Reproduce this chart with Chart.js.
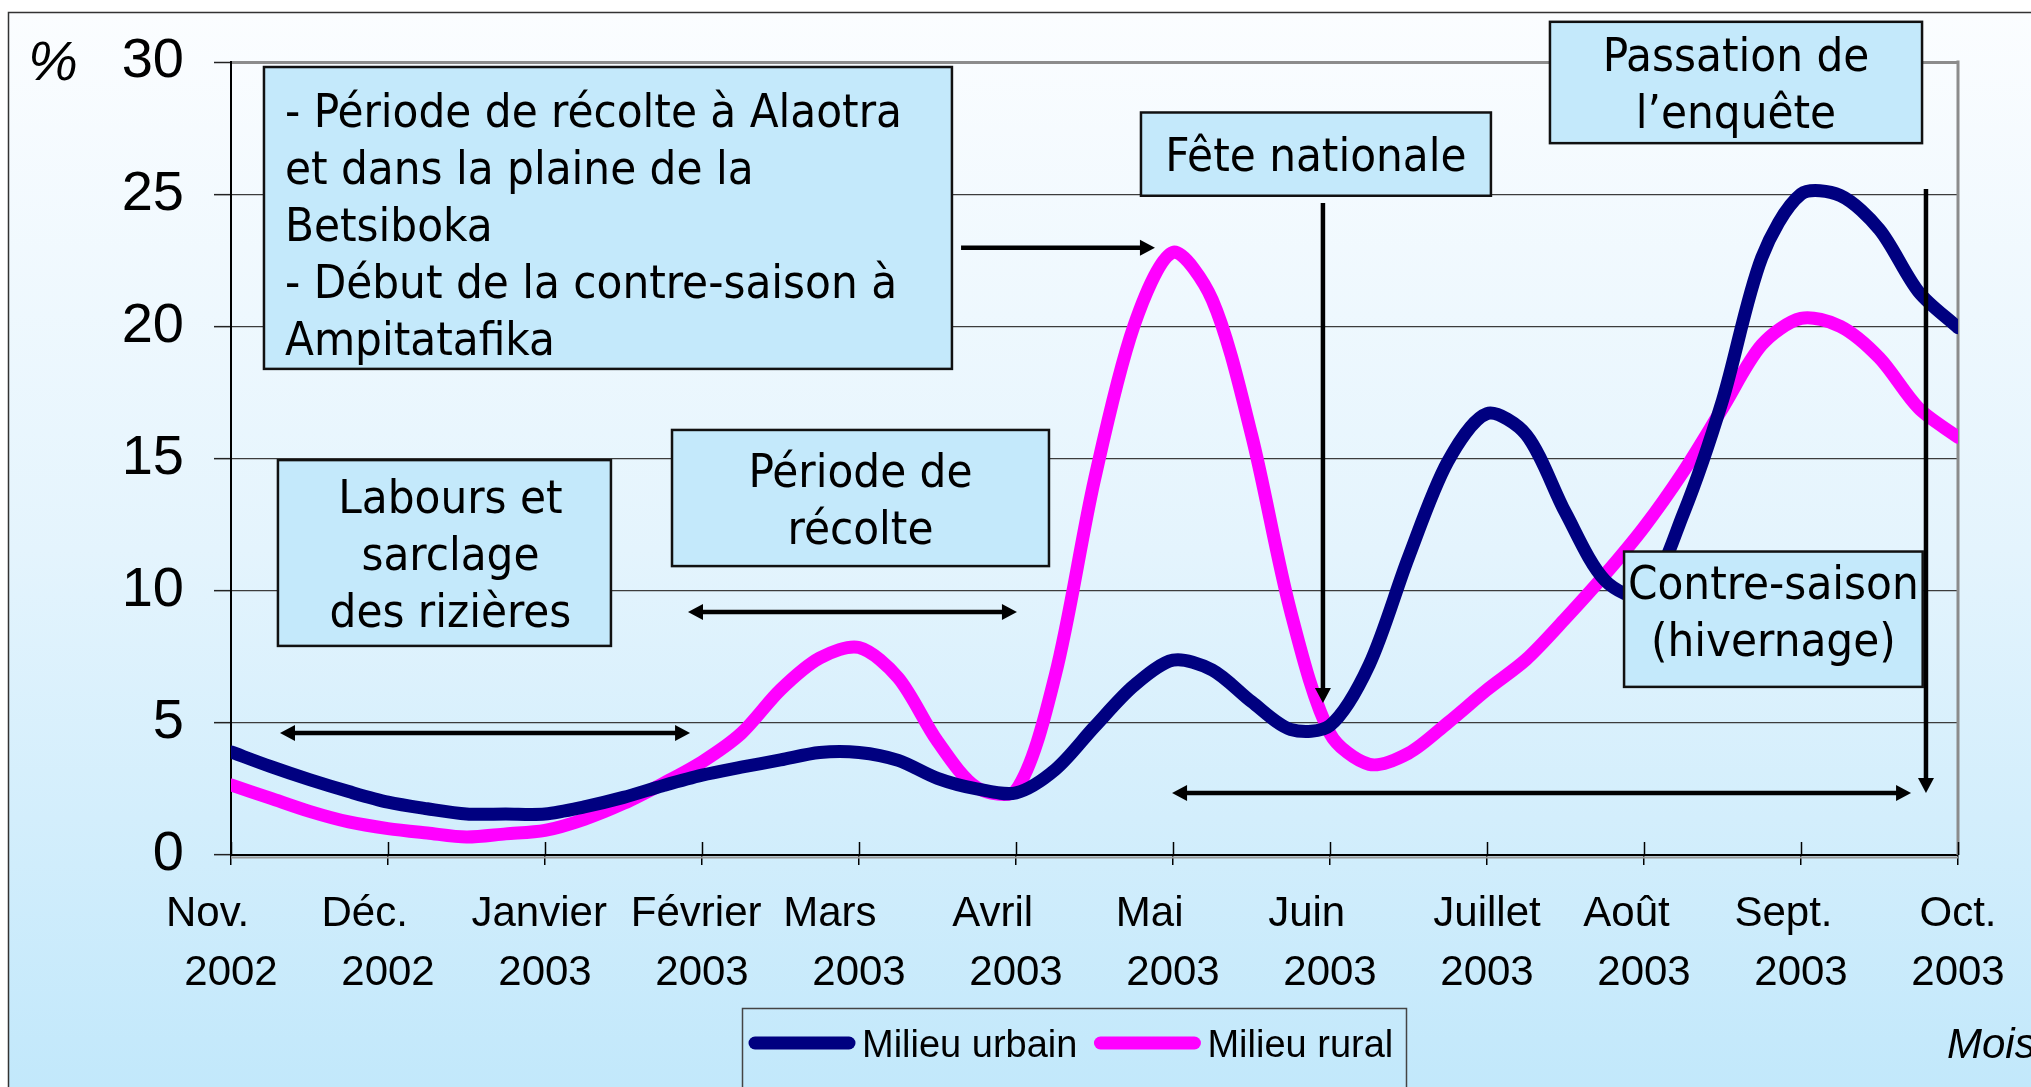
<!DOCTYPE html>
<html lang="fr">
<head>
<meta charset="utf-8">
<title>Milieu urbain / Milieu rural</title>
<script src="https://cdn.jsdelivr.net/npm/chart.js@4.4.1/dist/chart.umd.min.js"></script>
<style>
  html, body { margin: 0; padding: 0; background: #fff; }
  #wrap { position: relative; width: 2031px; height: 1087px; }
</style>
</head>
<body>
<div id="wrap"><canvas id="chart"></canvas></div>
<script>
// position en mois depuis novembre 2002 (0 = Nov. 2002 ... 11 = Oct. 2003)
const xPos = [0, 0.25, 0.5, 0.75, 1, 1.25, 1.5, 1.75, 2, 2.25, 2.5, 2.75, 3, 3.25, 3.5, 3.75,
  4, 4.25, 4.5, 4.75, 5, 5.25, 5.5, 5.75, 6, 6.25, 6.5, 6.75, 7, 7.25, 7.5, 7.75,
  8, 8.25, 8.5, 8.75, 9, 9.25, 9.5, 9.75, 10, 10.25, 10.5, 10.75, 11];

const urbain = [3.9, 3.35, 2.85, 2.4, 2.0, 1.75, 1.55, 1.55, 1.55, 1.82, 2.18, 2.62, 3.02, 3.32, 3.6, 3.88,
  3.88, 3.58, 2.9, 2.5, 2.35, 3.23, 4.85, 6.4, 7.37, 7.0, 5.8, 4.75, 4.9, 7.2, 11.26, 14.88,
  16.7, 15.9, 12.95, 10.4, 9.8, 12.9, 17.2, 22.6, 25.0, 24.95, 23.66, 21.3, 19.95];

const rural = [2.65, 2.15, 1.65, 1.25, 1.0, 0.83, 0.68, 0.8, 0.93, 1.35, 1.95, 2.7, 3.52, 4.6, 6.25, 7.45,
  7.85, 6.7, 4.3, 2.55, 2.45, 6.8, 14.2, 20.0, 22.8, 21.0, 15.9, 9.2, 4.6, 3.43, 3.85, 5.0,
  6.25, 7.4, 8.95, 10.6, 12.4, 14.5, 16.9, 19.3, 20.3, 20.0, 18.8, 16.9, 15.8];

// libellés des mois (les espaces de fin décalent le mois comme dans l'original)
const monthLabels = [
  ['Nov.    ', '2002'], ['Déc.    ', '2002'], ['Janvier ', '2003'], ['Février ', '2003'],
  ['Mars     ', '2003'], ['Avril    ', '2003'], ['Mai    ', '2003'], ['Juin    ', '2003'],
  ['Juillet', '2003'], ['Août   ', '2003'], ['Sept.   ', '2003'], ['Oct.', '2003']
];

const seriesNames = ['Milieu urbain', 'Milieu rural'];

// encadrés (coordonnées en mois / %)
const boxes = [
  { x0: 0.21, x1: 4.592, y0: 29.81, y1: 18.39, align: 'left', dy: 6,
    lines: ['- Période de récolte à Alaotra', 'et dans la plaine de la', 'Betsiboka',
            '- Début de la contre-saison à', 'Ampitatafika'] },
  { x0: 0.299, x1: 2.42, y0: 14.94, y1: 7.91, dx: 6, lines: ['Labours et', 'sarclage', 'des rizières'] },
  { x0: 2.809, x1: 5.21, y0: 16.08, y1: 10.93, lines: ['Période de', 'récolte'] },
  { x0: 5.796, x1: 8.025, y0: 28.09, y1: 24.94, lines: ['Fête nationale'] },
  { x0: 8.401, x1: 10.771, y0: 31.52, y1: 26.93, lines: ['Passation de', 'l’enquête'] },
  { x0: 8.873, x1: 10.775, y0: 11.48, y1: 6.36, dy: -9, lines: ['Contre-saison', '(hivernage)'] }
];

// flèches : from / to en mois et %, both = pointe aux deux bouts
const arrows = [
  { from: [0.312, 4.62], to: [2.924, 4.62], both: true },
  { from: [2.911, 9.19], to: [5.006, 9.19], both: true },
  { from: [4.65, 22.97], to: [5.885, 22.97] },
  { from: [6.955, 24.67], to: [6.955, 5.75] },
  { from: [5.994, 2.35], to: [10.701, 2.35], both: true },
  { from: [10.796, 25.2], to: [10.796, 2.35] }
];

const FONT = '"Liberation Sans", Arial, Helvetica, sans-serif';
const BOX_FONT = '47px "DejaVu Sans Condensed", "DejaVu Sans", sans-serif';
const BOX_FILL = '#c4e9fb';

function drawHead(ctx, tx, ty, ang) {
  const L = 15, W = 8;
  ctx.beginPath();
  ctx.moveTo(tx, ty);
  ctx.lineTo(tx - L * Math.cos(ang) + W * Math.sin(ang), ty - L * Math.sin(ang) - W * Math.cos(ang));
  ctx.lineTo(tx - L * Math.cos(ang) - W * Math.sin(ang), ty - L * Math.sin(ang) + W * Math.cos(ang));
  ctx.closePath();
  ctx.fill();
}

const background = {
  id: 'background',
  beforeDraw(chart) {
    const { ctx, width, height } = chart;
    ctx.save();
    ctx.fillStyle = '#fff';
    ctx.fillRect(0, 0, width, height);
    const g = ctx.createLinearGradient(0, 12, 0, height);
    g.addColorStop(0, '#fbfdff');
    g.addColorStop(0.5, '#e4f4fd');
    g.addColorStop(1, '#c2e8fb');
    ctx.fillStyle = g;
    ctx.fillRect(8, 12, width - 8, height - 12);
    ctx.strokeStyle = '#333';
    ctx.lineWidth = 1.5;
    ctx.beginPath();
    ctx.moveTo(8.5, height);
    ctx.lineTo(8.5, 12.5);
    ctx.lineTo(width, 12.5);
    ctx.stroke();
    ctx.restore();
  }
};

const frame = {
  id: 'frame',
  beforeDatasetsDraw(chart) {
    const { ctx, chartArea: a, scales: { x } } = chart;
    ctx.save();
    // bord droit gris
    ctx.strokeStyle = '#8c8c8c';
    ctx.lineWidth = 3;
    ctx.beginPath();
    ctx.moveTo(a.right, a.top - 1.5);
    ctx.lineTo(a.right, a.bottom);
    ctx.stroke();
    // ombre sous l'axe des x
    ctx.strokeStyle = '#9a9a9a';
    ctx.lineWidth = 2;
    ctx.beginPath();
    ctx.moveTo(a.left, a.bottom + 2.5);
    ctx.lineTo(a.right, a.bottom + 2.5);
    ctx.stroke();
    // graduations intérieures de l'axe des x
    ctx.strokeStyle = '#000';
    ctx.lineWidth = 1.5;
    x.ticks.forEach(t => {
      const px = Math.round(x.getPixelForValue(t.value)) + 0.5;
      ctx.beginPath();
      ctx.moveTo(px, a.bottom);
      ctx.lineTo(px, a.bottom - 13);
      ctx.stroke();
    });
    ctx.restore();
  }
};

const annotations = {
  id: 'annotations',
  afterDatasetsDraw(chart) {
    const { ctx, scales: { x, y } } = chart;
    ctx.save();
    boxes.forEach(b => {
      const left = x.getPixelForValue(b.x0), right = x.getPixelForValue(b.x1);
      const top = y.getPixelForValue(b.y0), bottom = y.getPixelForValue(b.y1);
      ctx.fillStyle = BOX_FILL;
      ctx.fillRect(left, top, right - left, bottom - top);
      ctx.strokeStyle = '#111';
      ctx.lineWidth = 2.5;
      ctx.strokeRect(left, top, right - left, bottom - top);
      ctx.font = BOX_FONT;
      ctx.fillStyle = '#000';
      ctx.textBaseline = 'alphabetic';
      const cy = (top + bottom) / 2 + (b.dy || 0);
      b.lines.forEach((t, i) => {
        const base = cy + (i - (b.lines.length - 1) / 2) * 57 + 17;
        if (b.align === 'left') {
          ctx.textAlign = 'left';
          ctx.fillText(t, left + 21, base);
        } else {
          ctx.textAlign = 'center';
          ctx.fillText(t, (left + right) / 2 + (b.dx || 0), base);
        }
      });
    });
    ctx.strokeStyle = '#000';
    ctx.fillStyle = '#000';
    ctx.lineWidth = 4.5;
    arrows.forEach(a => {
      const x1 = x.getPixelForValue(a.from[0]), y1 = y.getPixelForValue(a.from[1]);
      const x2 = x.getPixelForValue(a.to[0]), y2 = y.getPixelForValue(a.to[1]);
      const ang = Math.atan2(y2 - y1, x2 - x1);
      const sx = a.both ? x1 + 10 * Math.cos(ang) : x1, sy = a.both ? y1 + 10 * Math.sin(ang) : y1;
      ctx.beginPath();
      ctx.moveTo(sx, sy);
      ctx.lineTo(x2 - 10 * Math.cos(ang), y2 - 10 * Math.sin(ang));
      ctx.stroke();
      drawHead(ctx, x2, y2, ang);
      if (a.both) drawHead(ctx, x1, y1, ang + Math.PI);
    });
    ctx.restore();
  }
};

const extras = {
  id: 'extras',
  afterDraw(chart) {
    const { ctx, height } = chart;
    ctx.save();
    // légende encadrée
    ctx.strokeStyle = '#444';
    ctx.lineWidth = 1.5;
    ctx.beginPath();
    ctx.moveTo(742.5, height);
    ctx.lineTo(742.5, 1008.5);
    ctx.lineTo(1406.5, 1008.5);
    ctx.lineTo(1406.5, height);
    ctx.stroke();
    ctx.font = '38px ' + FONT;
    ctx.textAlign = 'left';
    ctx.textBaseline = 'alphabetic';
    let lx = 755;
    chart.data.datasets.forEach(ds => {
      ctx.strokeStyle = ds.borderColor;
      ctx.lineWidth = 13;
      ctx.lineCap = 'round';
      ctx.beginPath();
      ctx.moveTo(lx, 1043);
      ctx.lineTo(lx + 94, 1043);
      ctx.stroke();
      ctx.fillStyle = '#000';
      ctx.fillText(ds.label, lx + 107, 1057);
      lx += 107 + ctx.measureText(ds.label).width + 23;
    });
    // unités
    ctx.font = 'italic 42px ' + FONT;
    ctx.fillText('Mois', 1947, 1058);
    ctx.font = 'italic 56px ' + FONT;
    ctx.fillText('%', 28, 80);
    ctx.restore();
  }
};

Chart.defaults.color = '#000';
Chart.defaults.font.family = FONT;

new Chart(document.getElementById('chart'), {
  type: 'line',
  data: {
    datasets: [
      {
        label: seriesNames[0],
        data: xPos.map((v, i) => ({ x: v, y: urbain[i] })),
        borderColor: '#000080',
        borderWidth: 13,
        pointRadius: 0,
        tension: 0.3,
        borderJoinStyle: 'round',
        borderCapStyle: 'round',
        fill: false
      },
      {
        label: seriesNames[1],
        data: xPos.map((v, i) => ({ x: v, y: rural[i] })),
        borderColor: '#ff00ff',
        borderWidth: 13,
        pointRadius: 0,
        tension: 0.3,
        borderJoinStyle: 'round',
        borderCapStyle: 'round',
        fill: false
      }
    ]
  },
  options: {
    responsive: true,
    maintainAspectRatio: false,
    devicePixelRatio: 1,
    animation: false,
    events: [],
    layout: { autoPadding: false, padding: { top: 62, right: 73, left: 0, bottom: 0 } },
    plugins: { legend: { display: false }, tooltip: { enabled: false } },
    scales: {
      x: {
        type: 'linear',
        min: 0,
        max: 11,
        afterFit: s => { s.height = 232; s.paddingLeft = 0; s.paddingRight = 0; },
        ticks: {
          stepSize: 1,
          autoSkip: false,
          maxRotation: 0,
          padding: 20,
          font: { size: 42, lineHeight: 1.4 },
          callback: v => monthLabels[v]
        },
        grid: { drawOnChartArea: false, drawTicks: true, tickLength: 10, color: '#000', lineWidth: 1.5 },
        border: { color: '#000', width: 2 }
      },
      y: {
        min: 0,
        max: 30,
        afterFit: s => { s.width = 231; s.paddingTop = 0; s.paddingBottom = 0; },
        ticks: { stepSize: 5, padding: 30, font: { size: 56 } },
        grid: {
          tickLength: 17,
          tickColor: '#222',
          tickWidth: 1.5,
          color: c => (c.tick && c.tick.value === 30 ? '#8c8c8c' : '#3c3c3c'),
          lineWidth: c => (c.tick && c.tick.value === 30 ? 3 : 1.3)
        },
        border: { color: '#000', width: 2 }
      }
    }
  },
  plugins: [background, frame, annotations, extras]
});
</script>
</body>
</html>
